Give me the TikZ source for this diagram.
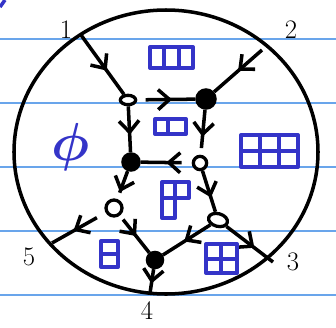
\documentclass[tikz,border=0pt]{standalone}
\usepackage{xcolor}
\usepackage{tikz}
\usetikzlibrary{shapes.geometric,arrows.meta,decorations.markings}
\definecolor{ink}{RGB}{52,52,200}
\definecolor{ruleblue}{RGB}{105,165,235}

\begin{document}
\begin{tikzpicture}[x=0.03cm,y=-0.03cm,line width=3pt,
    opendot/.style={ellipse,draw,fill=white,inner sep=0pt,line width=2.8pt},
    fulldot/.style={circle,draw,fill=black,inner sep=0pt},
    yd/.style={draw=ink,line width=3.4pt,line join=round,line cap=round},
    midarr/.style={postaction={decorate},decoration={markings,
      mark=at position #1 with {\arrow{Straight Barb[length=3.4mm,width=6mm]}}}},
    lbl/.style={font=\huge,scale=1.1,inner sep=0pt}]
    \useasboundingbox (0,0) rectangle (336,327);
    \foreach \y in {39,103,167,231,295}
      \draw[ruleblue,line width=1.2pt] (0,\y) -- (336,\y);
    \draw[ink,line width=3pt] (0,7) -- (5,0);
    \draw (166,152) ellipse [x radius=152,y radius=142];

    \node[opendot,minimum width=0.46cm,minimum height=0.28cm] (a) at (128,100) {};
    \node[fulldot,minimum size=0.54cm] (b) at (206,99) {};
    \node[fulldot,minimum size=0.48cm] (c) at (131,162) {};
    \node[opendot,minimum width=0.4cm,minimum height=0.4cm] (d) at (200,163) {};
    \node[opendot,minimum size=0.48cm] (e) at (114,208) {};
    \node[opendot,minimum width=0.58cm,minimum height=0.38cm,rotate=-15] (f) at (218,220) {};
    \node[fulldot,minimum size=0.45cm] (g) at (155,260) {};

    \coordinate (p1) at (81,35);
    \coordinate (p2) at (262,50);
    \coordinate (p3) at (273,262);
    \coordinate (p4) at (150,293);
    \coordinate (p5) at (52,243);

    \draw[midarr=0.6] (p1) -- (a);
    \draw[midarr=0.5] (p2) -- (b);
    \draw[midarr=0.6,shorten <=2.5mm] (a) -- (b);
    \draw[midarr=0.62] (a) -- (c);
    \draw[midarr=0.6,shorten >=2mm] (b) -- (d);
    \draw[midarr=0.5,shorten <=3mm] (d) -- (c);
    \draw[midarr=0.75,shorten >=2mm] (c) -- (e);
    \draw[midarr=0.65] (d) -- (f);
    \draw[midarr=0.55] (f) -- (g);
    \draw[midarr=0.55,shorten <=1.5mm] (e) -- (g);
    \draw[midarr=0.6] (f) -- (p3);
    \draw[midarr=0.6] (g) -- (p4);
    \draw[midarr=0.6,shorten <=3mm] (e) -- (p5);

    \node[lbl] (l1) at (66,30) {1};
    \node[lbl] (l2) at (291,30) {2};
    \node[lbl] (l3) at (293,262) {3};
    \node[lbl] (l4) at (147,311) {4};
    \node[lbl] (l5) at (29,257) {5};
    \node[text=ink,font=\huge\boldmath,scale=2.2] (phi) at (71,147) {$\phi$};

    \draw[yd] (150,47) rectangle (193,68) (164,47) -- (164,68) (179,47) -- (179,68);
    \draw[yd] (155,119) rectangle (186,134) (168,119) -- (168,134);
    \draw[yd] (241,135) rectangle (298,167) (241,151) -- (298,151)
      (260,135) -- (260,167) (279,135) -- (279,167);
    \draw[yd] (162,218) -- (162,182) -- (189,182) -- (189,198) -- (162,198)
      (175,182) -- (175,218) -- (162,218);
    \draw[yd] (101,241) rectangle (118,267) (101,254) -- (118,254);
    \draw[yd] (206,244) rectangle (237,273) (206,259) -- (237,259) (221,244) -- (221,273);
  \end{tikzpicture}
\end{document}
